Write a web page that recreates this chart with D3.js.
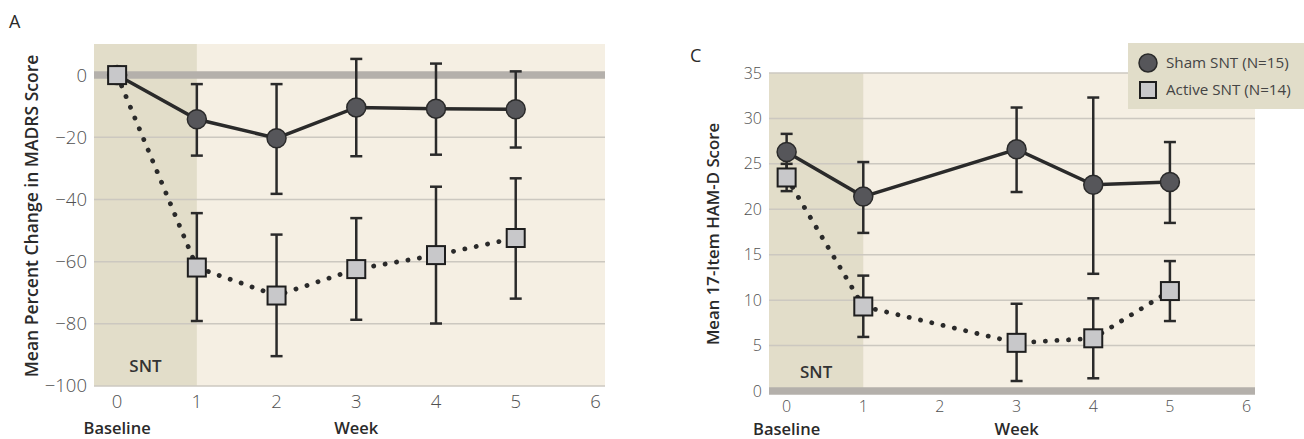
<!DOCTYPE html>
<html><head><meta charset="utf-8">
<script src="https://cdn.jsdelivr.net/npm/d3@7"></script>
<style>
body{margin:0;background:#fff;}
svg text{font-family:"Open Sans","Noto Sans",sans-serif;}
</style></head>
<body><svg id="c" width="1304" height="439"></svg>
<script>
// ---- Data ----
const weeksA = [0, 1, 2, 3, 4, 5];
const madrsSham = [0, -14.2, -20.3, -10.4, -10.8, -11.0];
const madrsShamLo = [null, -25.9, -38.2, -26.1, -25.6, -23.3];
const madrsShamHi = [null, -2.9, -2.9, 5.2, 3.7, 1.2];
const madrsActive = [0, -61.9, -70.9, -62.4, -57.9, -52.4];
const madrsActiveLo = [null, -79.1, -90.4, -78.7, -79.9, -71.9];
const madrsActiveHi = [null, -44.4, -51.3, -46.0, -35.9, -33.2];
const ticksA_y = [0, -20, -40, -60, -80, -100];

const weeksC = [0, 1, 3, 4, 5];
const hamdSham = [26.3, 21.4, 26.6, 22.7, 23.0];
const hamdShamLo = [24.3, 17.4, 21.9, 12.9, 18.5];
const hamdShamHi = [28.3, 25.2, 31.2, 32.3, 27.4];
const hamdActive = [23.5, 9.3, 5.3, 5.8, 11.0];
const hamdActiveLo = [22.0, 5.95, 1.1, 1.4, 7.7];
const hamdActiveHi = [25.0, 12.7, 9.6, 10.2, 14.3];
const ticksC_y = [0, 5, 10, 15, 20, 25, 30, 35];

const ticksX = [0, 1, 2, 3, 4, 5, 6];
const legendLabels = ["Sham SNT (N=15)", "Active SNT (N=14)"];

const svg = d3.select("#c");
const C = {bg:"#f5efe3", shade:"#e2ddc9", grid:"#ccc8c0", zero:"#b4b0ab", ink:"#2a2a2a",
  circle:"#56565a", square:"#c8c8ca", tick:"#505050", title:"#2a2a2a"};

function panel(o){
  const g = svg.append("g");
  const x = d3.scaleLinear().domain(o.xd).range([o.x0, o.x1]);
  const y = d3.scaleLinear().domain(o.yd).range([o.y1, o.y0]);
  g.append("rect").attr("x", o.x0).attr("y", o.y0).attr("width", o.x1-o.x0).attr("height", o.y1-o.y0).attr("fill", C.bg);
  g.append("rect").attr("x", o.x0).attr("y", o.y0).attr("width", x(1)-o.x0).attr("height", o.y1-o.y0).attr("fill", C.shade);
  g.selectAll(".gl").data(o.yticks.filter(v=>v!==0)).join("line")
    .attr("x1", o.x0).attr("x2", o.x1).attr("y1", d=>y(d)).attr("y2", d=>y(d))
    .attr("stroke", C.grid).attr("stroke-width", 1.5);
  g.append("line").attr("x1", o.x0).attr("x2", o.x1).attr("y1", y(0)).attr("y2", y(0))
    .attr("stroke", C.zero).attr("stroke-width", 7.5);
  g.append("text").attr("x", (o.x0 + x(1))/2).attr("y", o.sntY).attr("text-anchor","middle").attr("dy","0.35em")
    .attr("font-size", 17).attr("font-weight", 600).attr("fill", "#333").text("SNT");
  g.selectAll(".yt").data(o.yticks).join("text")
    .attr("x", o.x0 - 7).attr("y", d=>y(d)).attr("dy","0.35em").attr("text-anchor","end")
    .attr("font-size", o.tickSize).attr("font-weight", 300).attr("fill", C.tick).text(d=>d3.format("")(d));
  g.selectAll(".xt").data(ticksX).join("text")
    .attr("x", d=>x(d)).attr("y", o.y1 + o.xtDy).attr("dy","0.35em").attr("text-anchor","middle")
    .attr("font-size", o.tickSize).attr("font-weight", 300).attr("fill", C.tick).text(d=>d);
  g.append("text").attr("x", x(0)).attr("y", o.xlabY).attr("text-anchor","middle")
    .attr("font-size", 16.5).attr("font-weight", 600).attr("fill", C.title).text("Baseline");
  g.append("text").attr("x", x(3)).attr("y", o.xlabY).attr("text-anchor","middle")
    .attr("font-size", 16.5).attr("font-weight", 600).attr("fill", C.title).text("Week");
  g.append("text").attr("transform", `translate(${o.ytX},${o.ytY}) rotate(-90)`)
    .attr("text-anchor","middle").attr("dy","0.35em")
    .attr("font-size", o.ytSize).attr("font-weight", 600).attr("fill", C.title).text(o.ytitle);
  g.append("text").attr("x", o.letterX).attr("y", o.letterY).attr("font-size", 18).attr("font-weight", 500)
    .attr("fill", C.title).text(o.letter);

  const sham = o.weeks.map((w,i)=>({w, v:o.sham[i], lo:o.shamLo[i], hi:o.shamHi[i]}));
  const act = o.weeks.map((w,i)=>({w, v:o.act[i], lo:o.actLo[i], hi:o.actHi[i]}));
  g.append("path").datum(act).attr("fill","none").attr("stroke", C.ink).attr("stroke-width", 4.8)
    .attr("stroke-linecap","round").attr("stroke-dasharray","0.1 11.5")
    .attr("d", d3.line().x(d=>x(d.w)).y(d=>y(d.v)));
  g.append("path").datum(sham).attr("fill","none").attr("stroke", C.ink).attr("stroke-width", 3.5)
    .attr("d", d3.line().x(d=>x(d.w)).y(d=>y(d.v)));
  const eb = sham.concat(act).filter(d=>d.lo!=null);
  const eg = g.append("g").attr("stroke", C.ink).attr("stroke-width", 2.5);
  eb.forEach(d=>{
    eg.append("line").attr("x1", x(d.w)).attr("x2", x(d.w)).attr("y1", y(d.lo)).attr("y2", y(d.hi));
    eg.append("line").attr("x1", x(d.w)-6).attr("x2", x(d.w)+6).attr("y1", y(d.lo)).attr("y2", y(d.lo));
    eg.append("line").attr("x1", x(d.w)-6).attr("x2", x(d.w)+6).attr("y1", y(d.hi)).attr("y2", y(d.hi));
  });
  g.selectAll(".ci").data(sham).join("circle").attr("cx", d=>x(d.w)).attr("cy", d=>y(d.v)).attr("r", 9.5)
    .attr("fill", C.circle).attr("stroke", C.ink).attr("stroke-width", 1.5);
  g.selectAll(".sq").data(act).join("rect").attr("x", d=>x(d.w)-9).attr("y", d=>y(d.v)-9)
    .attr("width", 18).attr("height", 18).attr("fill", C.square).attr("stroke", "#1e1e1e").attr("stroke-width", 2);
  return {x, y};
}

panel({x0:94, x1:605, y0:44, y1:386, xd:[-0.29, 6.12], yd:[-100, 10], yticks:ticksA_y,
  weeks:weeksA, sham:madrsSham, shamLo:madrsShamLo, shamHi:madrsShamHi,
  act:madrsActive, actLo:madrsActiveLo, actHi:madrsActiveHi, tickSize:18.5,
  sntY:366, xtDy:16, xlabY:434, ytX:32, ytY:216, ytSize:17.5,
  ytitle:"Mean Percent Change in MADRS Score", letter:"A", letterX:9, letterY:28});

panel({x0:769, x1:1255, y0:73, y1:391, xd:[-0.23, 6.11], yd:[0, 35], yticks:ticksC_y,
  weeks:weeksC, sham:hamdSham, shamLo:hamdShamLo, shamHi:hamdShamHi,
  act:hamdActive, actLo:hamdActiveLo, actHi:hamdActiveHi, tickSize:16,
  sntY:372, xtDy:15.5, xlabY:435, ytX:713, ytY:234, ytSize:16.8,
  ytitle:"Mean 17-Item HAM-D Score", letter:"C", letterX:690, letterY:62});

const lg = svg.append("g");
lg.append("rect").attr("x", 1128).attr("y", 43).attr("width", 200).attr("height", 66).attr("fill", "#e1ddc9");
lg.append("circle").attr("cx", 1148).attr("cy", 63).attr("r", 9).attr("fill", C.circle).attr("stroke", C.ink).attr("stroke-width", 1.5);
lg.append("rect").attr("x", 1140).attr("y", 82).attr("width", 16).attr("height", 16).attr("fill", C.square).attr("stroke", "#1e1e1e").attr("stroke-width", 2);
lg.selectAll(".lt").data(legendLabels).join("text").attr("x", 1166).attr("y", (d,i)=>63 + i*27).attr("dy","0.35em")
  .attr("font-size", 15.2).attr("fill", "#444").text(d=>d);
</script></body></html>
